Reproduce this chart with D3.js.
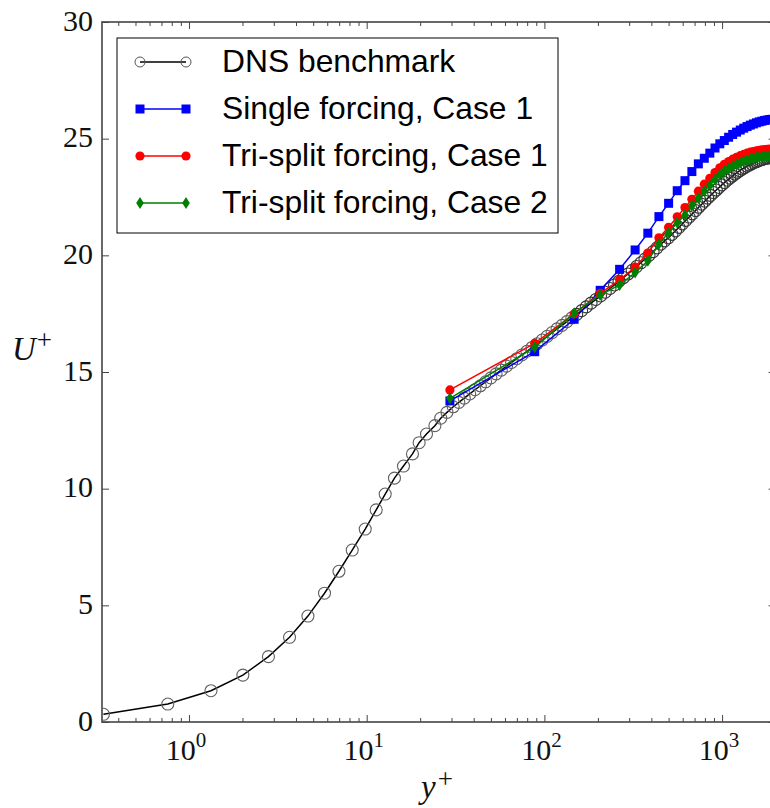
<!DOCTYPE html>
<html>
<head>
<meta charset="utf-8">
<script src="https://cdn.jsdelivr.net/npm/d3@7"></script>
<style>
  body { margin: 0; background: #fff; }
  svg { display: block; }
</style>
</head>
<body>
<div id="chart"></div>
<script>
// ---- data ----
const dnsYp = [0.33, 0.76, 1.33, 2.01, 2.80, 3.68, 4.67, 5.79, 6.98, 8.29, 9.81, 11.31, 12.71, 14.33, 16.11, 18.1, 19.73, 21.7, 24.2, 26.1, 28.3, 30.7,
  33.0, 35.4, 38.0, 40.7, 43.6, 46.7, 50.0, 53.5, 57.2, 61.2, 65.4, 69.9, 74.7, 79.8, 85.2, 91.0, 97.1, 103.6, 110.5, 117.8, 125.6, 133.9, 142.7,
  152, 162, 172, 183, 195, 207, 220, 234, 248, 263, 279, 295, 312, 330, 349, 368, 388, 409, 430, 452, 475, 498, 522, 547, 572, 598, 625, 652,
  680, 709, 738, 768, 799, 830, 862, 895, 928, 962, 997, 1032, 1068, 1105, 1142, 1180, 1219, 1258, 1298, 1339, 1380, 1422, 1465, 1508, 1552,
  1597, 1642, 1688, 1735, 1782, 1830, 1879, 1928, 1978];
const dnsU = [0.33, 0.77, 1.34, 2.01, 2.80, 3.63, 4.54, 5.52, 6.46, 7.37, 8.27, 9.09, 9.77, 10.45, 10.97, 11.49, 11.97, 12.34, 12.70, 13.02, 13.27, 13.51,
  13.70, 13.88, 14.06, 14.24, 14.41, 14.58, 14.75, 14.92, 15.08, 15.25, 15.41, 15.57, 15.73, 15.89, 16.05, 16.21, 16.37, 16.53, 16.69, 16.85, 17.00, 17.16, 17.32,
  17.47, 17.63, 17.79, 17.95, 18.11, 18.26, 18.42, 18.58, 18.73, 18.89, 19.05, 19.20, 19.36, 19.52, 19.68, 19.84, 20.00, 20.16, 20.32, 20.48, 20.62, 20.75, 20.90, 21.05, 21.20, 21.35, 21.50, 21.64,
  21.78, 21.92, 22.06, 22.19, 22.32, 22.45, 22.57, 22.69, 22.80, 22.91, 23.02, 23.12, 23.22, 23.31, 23.40, 23.48, 23.56, 23.63, 23.70, 23.76, 23.82, 23.87, 23.92, 23.97, 24.01,
  24.05, 24.08, 24.11, 24.14, 24.16, 24.18, 24.20, 24.21, 24.22];

// cell-centre positions shared by the three forcing runs
const lesYp = [29.4, 88.2, 147, 206, 265, 324, 382, 441, 500, 559, 618, 676, 735, 794, 853, 912, 971, 1029, 1088, 1147, 1206,
  1265, 1324, 1382, 1441, 1500, 1559, 1618, 1676, 1735, 1794, 1853, 1912, 1971];
const singleCase1 = [13.76, 15.87, 17.26, 18.50, 19.40, 20.23, 20.95, 21.66, 22.23, 22.77, 23.20, 23.59, 23.92, 24.16, 24.38, 24.60, 24.78,
  24.92, 25.06, 25.18, 25.28, 25.37, 25.45, 25.52, 25.58, 25.63, 25.68, 25.72, 25.75, 25.78, 25.80, 25.82, 25.83, 25.84];
const triCase1 = [14.23, 16.23, 17.49, 18.37, 18.95, 19.50, 20.10, 20.75, 21.20, 21.65, 22.05, 22.40, 22.75, 23.05, 23.30, 23.55, 23.75,
  23.90, 24.02, 24.12, 24.20, 24.27, 24.33, 24.38, 24.42, 24.45, 24.48, 24.50, 24.52, 24.53, 24.54, 24.55, 24.55, 24.56];
const triCase2 = [13.87, 16.06, 17.52, 18.30, 18.73, 19.26, 19.77, 20.49, 20.97, 21.40, 21.73, 22.12, 22.45, 22.75, 23.00, 23.25, 23.45,
  23.60, 23.72, 23.82, 23.90, 23.97, 24.03, 24.08, 24.12, 24.15, 24.18, 24.20, 24.22, 24.23, 24.24, 24.25, 24.25, 24.26];

const xMajor = [1, 10, 100, 1000];
const xMajorExp = ["0", "1", "2", "3"];
const xMinor = [0.4, 0.5, 0.6, 0.7, 0.8, 0.9, 2, 3, 4, 5, 6, 7, 8, 9, 20, 30, 40, 50, 60, 70, 80, 90,
  200, 300, 400, 500, 600, 700, 800, 900];
const yMajor = [0, 5, 10, 15, 20, 25, 30];
const legendNames = ["DNS benchmark", "Single forcing, Case 1", "Tri-split forcing, Case 1", "Tri-split forcing, Case 2"];

// ---- layout ----
const W = 770, H = 808;
const pL = 102, pR = 775.6, pT = 22, pB = 722;
const serif = "'Liberation Serif', 'Times New Roman', serif";
const sans = "'Liberation Sans', Arial, sans-serif";

const svg = d3.select("#chart").append("svg").attr("width", W).attr("height", H);
svg.append("rect").attr("width", W).attr("height", H).attr("fill", "#fff");

const x = d3.scaleLog().domain([0.324, 2000]).range([pL, pR]);
const y = d3.scaleLinear().domain([0, 30]).range([pB, pT]);

svg.append("clipPath").attr("id", "plotclip")
  .append("rect").attr("x", pL).attr("y", pT).attr("width", pR - pL).attr("height", pB - pT);

// ticks (inward) on all sides
function tickGroup(axis, tx, ty) {
  const g = svg.append("g").attr("transform", `translate(${tx},${ty})`).call(axis);
  g.select(".domain").remove();
  g.selectAll("line").attr("stroke", "#444").attr("stroke-width", 1);
  g.selectAll("text").remove();
  return g;
}
tickGroup(d3.axisBottom(x).tickValues(xMajor).tickSize(-7), 0, pB);
tickGroup(d3.axisBottom(x).tickValues(xMinor).tickSize(-4), 0, pB);
tickGroup(d3.axisTop(x).tickValues(xMajor).tickSize(-7), 0, pT);
tickGroup(d3.axisTop(x).tickValues(xMinor).tickSize(-4), 0, pT);
tickGroup(d3.axisLeft(y).tickValues(yMajor).tickSize(-7), pL, 0);
tickGroup(d3.axisRight(y).tickValues(yMajor).tickSize(-7), pR, 0);

// frame
svg.append("rect").attr("x", pL).attr("y", pT).attr("width", pR - pL).attr("height", pB - pT)
  .attr("fill", "none").attr("stroke", "#444").attr("stroke-width", 1.6);

// y tick labels
svg.append("g").selectAll("text").data(yMajor).join("text")
  .attr("x", 93).attr("y", d => y(d) + 8.5)
  .attr("text-anchor", "end").attr("font-family", serif).attr("font-size", 30).attr("fill", "#111")
  .text(d => d);

// x tick labels 10^n
const xl = svg.append("g").selectAll("text").data(xMajor).join("text")
  .attr("x", d => x(d) - 3).attr("y", pB + 38)
  .attr("text-anchor", "middle").attr("font-family", serif).attr("font-size", 30).attr("fill", "#111");
xl.append("tspan").text("10");
xl.append("tspan").attr("font-size", 21).attr("dy", -13).text((d, i) => xMajorExp[i]);

// axis titles
const yt = svg.append("text").attr("x", 12).attr("y", 360).attr("font-family", serif).attr("fill", "#111");
yt.append("tspan").attr("font-size", 33).attr("font-style", "italic").text("U");
yt.append("tspan").attr("font-size", 27).attr("dy", -11).attr("dx", 1).text("+");
const xt = svg.append("text").attr("x", 421).attr("y", 798).attr("font-family", serif).attr("fill", "#111");
xt.append("tspan").attr("font-size", 33).attr("font-style", "italic").text("y");
xt.append("tspan").attr("font-size", 27).attr("dy", -10).attr("dx", 2).text("+");

// ---- series ----
const plot = svg.append("g").attr("clip-path", "url(#plotclip)");
const line = d3.line().x(d => x(d[0])).y(d => y(d[1]));

const dns = dnsYp.map((v, i) => [v, dnsU[i]]);
const series = [
  { name: legendNames[1], color: "#0000ff", marker: "square", data: lesYp.map((v, i) => [v, singleCase1[i]]) },
  { name: legendNames[2], color: "#ff0000", marker: "circle", data: lesYp.map((v, i) => [v, triCase1[i]]) },
  { name: legendNames[3], color: "#008000", marker: "diamond", data: lesYp.map((v, i) => [v, triCase2[i]]) }
];

function drawMarker(g, kind, color, cx, cy) {
  if (kind === "square") {
    g.append("rect").attr("x", cx - 4.5).attr("y", cy - 4.5).attr("width", 9).attr("height", 9).attr("fill", color);
  } else if (kind === "circle") {
    g.append("circle").attr("cx", cx).attr("cy", cy).attr("r", 4.6).attr("fill", color);
  } else if (kind === "diamond") {
    g.append("path").attr("d", `M${cx},${cy - 6}L${cx + 3.8},${cy}L${cx},${cy + 6}L${cx - 3.8},${cy}Z`).attr("fill", color);
  } else {
    g.append("circle").attr("cx", cx).attr("cy", cy).attr("r", 6).attr("fill", "none")
      .attr("stroke", color).attr("stroke-width", 1.1);
  }
}

// DNS: black line with open circles; circles darken where the profile is densely sampled
plot.append("path").datum(dns).attr("d", line).attr("fill", "none").attr("stroke", "#000").attr("stroke-width", 1.5);
const dg = plot.append("g");
dns.forEach(d => drawMarker(dg, "open", d[0] > 150 ? "#333" : "#606060", x(d[0]), y(d[1])));

series.forEach(s => {
  plot.append("path").datum(s.data).attr("d", line).attr("fill", "none").attr("stroke", s.color).attr("stroke-width", 1.5);
  const g = plot.append("g");
  s.data.forEach(d => drawMarker(g, s.marker, s.color, x(d[0]), y(d[1])));
});

// ---- legend ----
const lg = svg.append("g");
lg.append("rect").attr("x", 117).attr("y", 38).attr("width", 441).attr("height", 195)
  .attr("fill", "#fff").attr("stroke", "#000").attr("stroke-width", 1);
const legendItems = [{ color: "#000", marker: "open" }].concat(series);
legendItems.forEach((s, i) => {
  const ry = 62 + i * 47;
  lg.append("line").attr("x1", 140).attr("x2", 186).attr("y1", ry).attr("y2", ry)
    .attr("stroke", s.color).attr("stroke-width", 1.5);
  [140, 186].forEach(cx => {
    if (s.marker === "open") {
      lg.append("circle").attr("cx", cx).attr("cy", ry).attr("r", 5).attr("fill", "none").attr("stroke", "#555").attr("stroke-width", 1);
    } else {
      drawMarker(lg, s.marker, s.color, cx, ry);
    }
  });
  lg.append("text").attr("x", 222).attr("y", ry + 10).attr("font-family", sans).attr("font-size", 31.8)
    .attr("fill", "#000").text(legendNames[i]);
});
</script>
</body>
</html>
